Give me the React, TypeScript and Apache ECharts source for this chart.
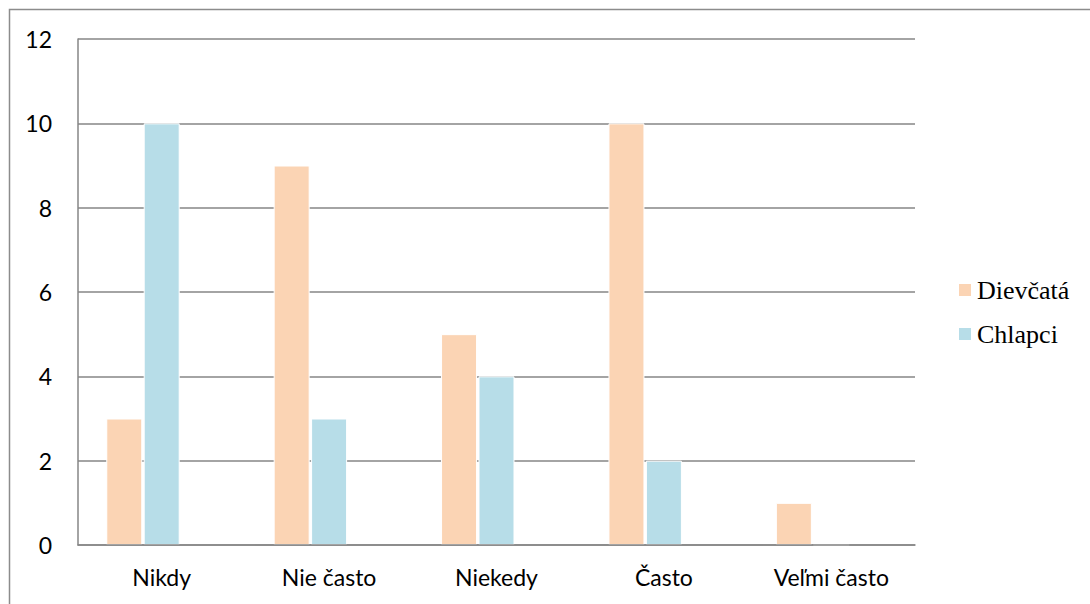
import React, { useEffect, useRef } from "react";
import * as echarts from "echarts";

const categories = ["Nikdy", "Nie často", "Niekedy", "Často", "Veľmi často"];
const dievcata = [3, 9, 5, 10, 1];
const chlapci = [10, 3, 4, 2, 0];
const seriesNames = ["Dievčatá", "Chlapci"];
// Excel layout reserves a third (empty) bar slot in each category
const emptySlot: number[] = [];

export default function App() {
  const ref = useRef<HTMLDivElement>(null);
  useEffect(() => {
    if (!ref.current) return;
    const chart = echarts.init(ref.current, null, { renderer: "svg" });
    chart.setOption({
      animation: false,
      backgroundColor: "#ffffff",
      graphic: [
        {
          type: "rect",
          shape: { x: 9.5, y: 9.5, width: 1100, height: 620 },
          style: { fill: "none", stroke: "#8c8c8c", lineWidth: 1.5 },
          silent: true,
        },
      ],
      grid: { left: 78, top: 39, right: 175, bottom: 59 },
      legend: {
        orient: "vertical",
        left: 952,
        top: 272,
        itemWidth: 14,
        itemHeight: 14,
        itemGap: 18,
        icon: "rect",
        textStyle: { fontFamily: "Liberation Serif", fontSize: 26, color: "#000" },
        data: seriesNames,
      },
      xAxis: {
        type: "category",
        data: categories,
        z: 5,
        axisLine: { show: true, lineStyle: { color: "#868686", width: 1.5 } },
        axisTick: { show: false },
        axisLabel: {
          fontFamily: "Lato",
          fontSize: 23,
          color: "#000",
          margin: 20,
        },
      },
      yAxis: {
        type: "value",
        min: 0,
        max: 12,
        interval: 2,
        axisLine: { show: true, lineStyle: { color: "#868686", width: 1.5 } },
        axisTick: { show: false },
        splitLine: { lineStyle: { color: "#868686", width: 1.5 } },
        axisLabel: {
          fontFamily: "Lato",
          fontSize: 23,
          color: "#000",
          margin: 26,
        },
      },
      series: [
        {
          name: seriesNames[0],
          type: "bar",
          data: dievcata,
          barWidth: 36,
          barGap: "4%",
          itemStyle: { color: "#FBD4B4", borderColor: "#ffffff", borderWidth: 1 },
        },
        {
          name: seriesNames[1],
          type: "bar",
          data: chlapci,
          barWidth: 36,
          itemStyle: { color: "#B7DDE8", borderColor: "#ffffff", borderWidth: 1 },
        },
        {
          name: "",
          type: "bar",
          data: emptySlot,
          barWidth: 36,
          itemStyle: { color: "transparent" },
        },
      ],
    });
    return () => chart.dispose();
  }, []);
  return (
    <div
      ref={ref}
      style={{ position: "absolute", left: 0, top: 0, width: 1090, height: 604 }}
    />
  );
}
